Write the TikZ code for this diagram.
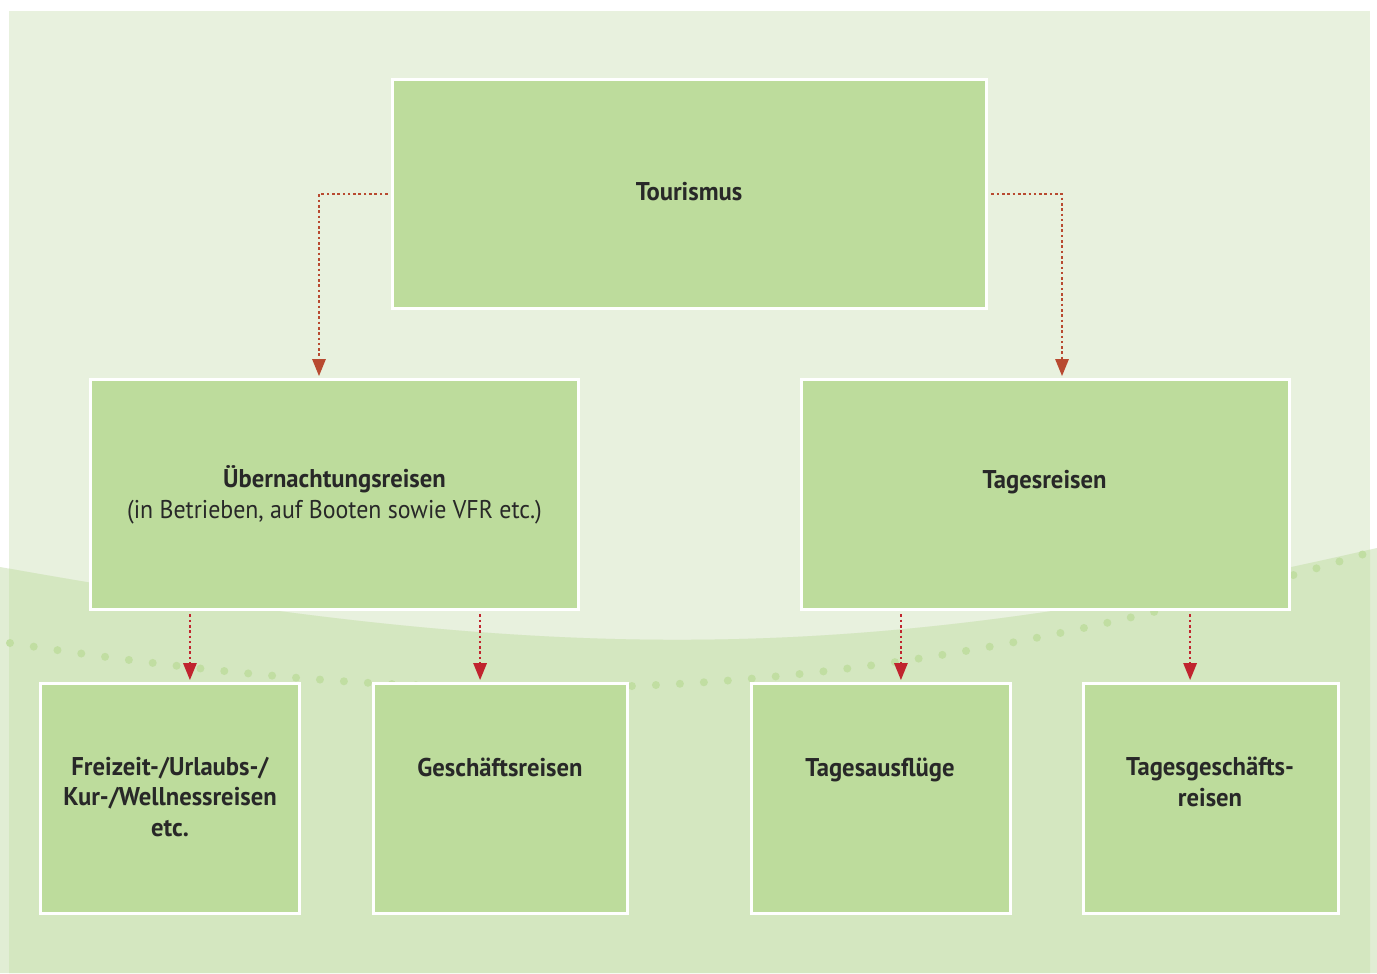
\documentclass[tikz,border=0pt]{standalone}
\usepackage{fontspec}
\setmainfont{PT Sans}[FakeStretch=0.93, BoldFeatures={FakeStretch=0.96}]
\usetikzlibrary{arrows.meta}

\definecolor{panelgreen}{RGB}{232,241,222}
\definecolor{bandgreen}{RGB}{212,231,192}
\definecolor{bandpale}{RGB}{225,237,212}
\definecolor{boxgreen}{RGB}{189,220,156}
\definecolor{dotgreen}{RGB}{193,222,162}
\definecolor{linkbrown}{RGB}{184,74,48}
\definecolor{linkred}{RGB}{192,36,46}
\definecolor{inkgray}{RGB}{40,40,40}

\tikzset{
  box/.style={draw=white, line width=0.035cm, fill=boxgreen, inner sep=0pt},
  lbl/.style={anchor=base, align=center, inner sep=0pt, text=inkgray,
    font=\fontsize{7.3}{8.54}\selectfont\bfseries},
  link/.style={line width=0.026cm, dash pattern=on 0.026cm off 0.027cm,
    -{Triangle[length=0.17cm,width=0.13cm]}},
  toplink/.style={link, draw=linkbrown},
  botlink/.style={link, draw=linkred}
}

\begin{document}
\begin{tikzpicture}[x=0.01cm, y=-0.01cm]
    \useasboundingbox (0,0) rectangle (1377,973);

    % Background panel with lower band
    \fill[white] (0,0) rectangle (1377,973);
    \fill[panelgreen] (9,11) rectangle (1370,973);
    \fill[bandpale] (0,567) .. controls (560,667) and (860,667) .. (1377,548)
        -- (1377,973) -- (0,973) -- cycle;
    \begin{scope}
        \clip (9,11) rectangle (1370,973);
        \fill[bandgreen] (0,567) .. controls (560,667) and (860,667) .. (1377,548)
            -- (1377,973) -- (0,973) -- cycle;
    \end{scope}
    \draw[dotgreen, line width=0.08cm, line cap=round, dash pattern=on 0pt off 0.24cm]
        (10,643) .. controls (500,719) and (879,705) .. (1377,550);

    % Boxes
    \node[box, minimum width=5.94cm, minimum height=2.29cm] (tour) at (689.5,194) {};
    \node[box, minimum width=4.88cm, minimum height=2.30cm] (uber) at (334.5,494.5) {};
    \node[box, minimum width=4.88cm, minimum height=2.30cm] (tages) at (1045.5,494.5) {};
    \node[box, minimum width=2.59cm, minimum height=2.30cm] (frei) at (170,798.5) {};
    \node[box, minimum width=2.54cm, minimum height=2.30cm] (gesch) at (500.5,798.5) {};
    \node[box, minimum width=2.59cm, minimum height=2.30cm] (ausfl) at (881,798.5) {};
    \node[box, minimum width=2.55cm, minimum height=2.30cm] (tgesch) at (1211,798.5) {};

    % Labels (base = last line)
    \node[lbl] (tourT) at (689,200) {Tourismus};
    \node[lbl] (uberT) at (334.5,518) {Übernachtungsreisen\\\textmd{(in Betrieben, auf Booten sowie VFR etc.)}};
    \node[lbl] (tagesT) at (1044.5,488) {Tagesreisen};
    \node[lbl] (freiT) at (170,836) {Freizeit-/Urlaubs-/\\Kur-/Wellnessreisen\\etc.};
    \node[lbl] (geschT) at (500,776) {Geschäftsreisen};
    \node[lbl] (ausflT) at (880,776) {Tagesausflüge};
    \node[lbl] (tgeschT) at (1210,806) {Tagesgeschäfts-\\reisen};

    % Links
    \draw[toplink] ([xshift=-0.03cm]tour.west) -| ([xshift=-0.155cm,yshift=0.015cm]uber.north);
    \draw[toplink] ([xshift=0.03cm]tour.east) -| ([xshift=0.165cm,yshift=0.015cm]tages.north);
    \draw[botlink] ([xshift=-1.445cm,yshift=-0.03cm]uber.south) coordinate (a1)
        -- ([yshift=0.015cm]a1 |- frei.north);
    \draw[botlink] ([xshift=1.455cm,yshift=-0.03cm]uber.south) coordinate (a2)
        -- ([yshift=0.015cm]a2 |- gesch.north);
    \draw[botlink] ([xshift=-1.445cm,yshift=-0.03cm]tages.south) coordinate (a3)
        -- ([yshift=0.015cm]a3 |- ausfl.north);
    \draw[botlink] ([xshift=1.445cm,yshift=-0.03cm]tages.south) coordinate (a4)
        -- ([yshift=0.015cm]a4 |- tgesch.north);
\end{tikzpicture}
\end{document}
